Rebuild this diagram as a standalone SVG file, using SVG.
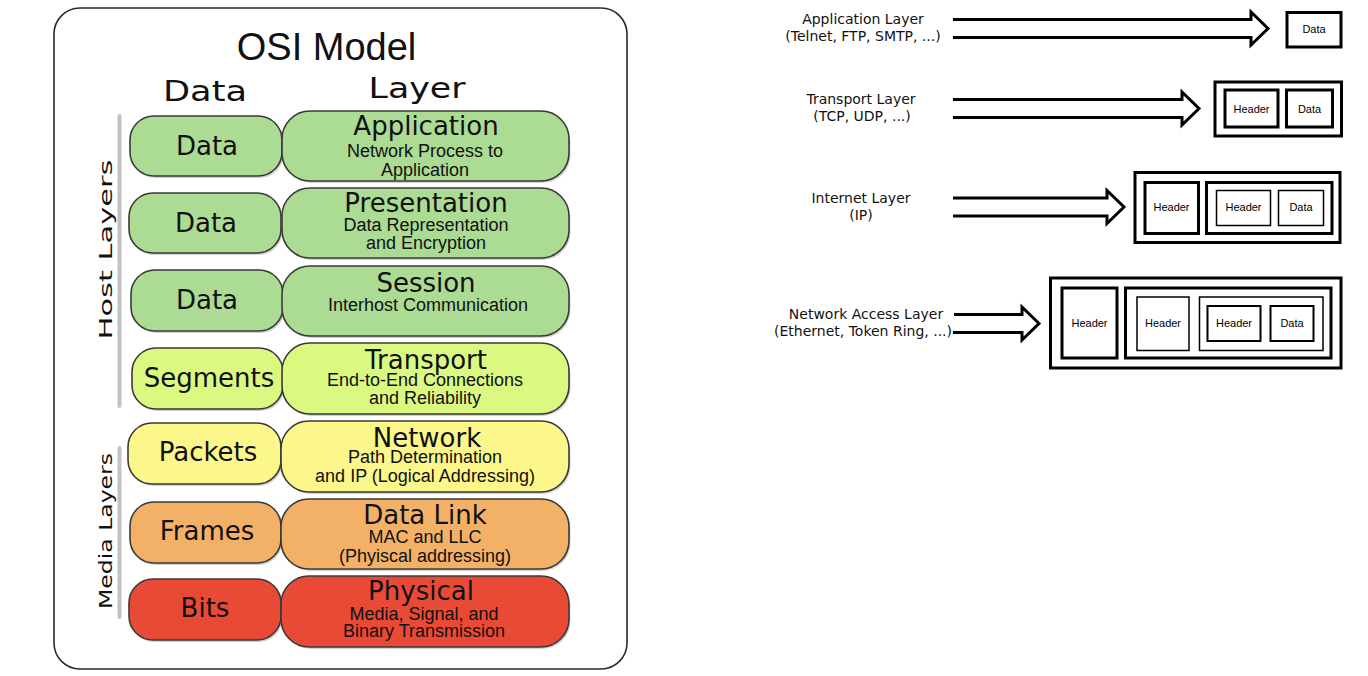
<svg xmlns="http://www.w3.org/2000/svg" width="1368" height="676" viewBox="0 0 1368 676">
<style>
.frame{fill:#fff;stroke:#2a2a2a;stroke-width:1.6}
.pill{stroke:#3a3a3a;stroke-width:1.6}
.shadow{fill:#9a9a9a;opacity:0.45}
.g{fill:#acdb93}.lime{fill:#dbf981}.y{fill:#fcf78a}.o{fill:#f3b167}.r{fill:#e94a36}
.title{font-family:"Liberation Sans",Arial,sans-serif;font-size:38px;fill:#111;text-anchor:middle}
.hdr{font-family:"DejaVu Sans",Verdana,sans-serif;font-size:28px;fill:#111;text-anchor:middle}
.side{font-family:"DejaVu Sans",Verdana,sans-serif;font-size:17px;fill:#111;text-anchor:middle}
.pl{font-family:"DejaVu Sans",Verdana,sans-serif;font-size:26px;fill:#111;text-anchor:middle}
.lt{font-family:"DejaVu Sans",Verdana,sans-serif;font-size:26px;fill:#111;text-anchor:middle}
.ls{font-family:"Liberation Sans",Arial,sans-serif;font-size:18px;fill:#111;text-anchor:middle}
.vline{stroke:#c2c2c2;stroke-width:4;stroke-linecap:round}
.rt{font-family:"DejaVu Sans",Verdana,sans-serif;font-size:14px;fill:#111;text-anchor:middle}
.arrow{fill:none;stroke:#000;stroke-width:3;stroke-linejoin:miter}
.bx{fill:none;stroke:#000;stroke-width:3}
.bm{fill:none;stroke:#000;stroke-width:2}
.bt{fill:none;stroke:#000;stroke-width:1.5}
.bl{font-family:"Liberation Sans",Arial,sans-serif;font-size:11px;fill:#000;text-anchor:middle}
</style>

<g id="osi-frame">
<rect class="frame" x="54" y="8" width="573" height="661" rx="26"/>
<text class="title" x="326.5" y="60">OSI Model</text>
<text class="hdr" x="205" y="101" textLength="84" lengthAdjust="spacingAndGlyphs">Data</text>
<text class="hdr" x="417" y="97.5" textLength="97" lengthAdjust="spacingAndGlyphs">Layer</text>
</g>

<g id="side-labels">
<line class="vline" x1="119.5" y1="116" x2="119.5" y2="406"/>
<line class="vline" x1="119.5" y1="448" x2="119.5" y2="617"/>
<text class="side" transform="translate(111.5,249.5) rotate(-90)" textLength="180" lengthAdjust="spacingAndGlyphs">Host Layers</text>
<text class="side" transform="translate(111.5,531) rotate(-90)" textLength="156" lengthAdjust="spacingAndGlyphs">Media Layers</text>
</g>

<g id="row-application">
<rect class="shadow" x="131.5" y="118" width="152" height="60" rx="24"/>
<rect class="pill g" x="130" y="116" width="152" height="60" rx="24"/>
<text class="pl" x="207" y="155">Data</text>
<rect class="shadow" x="283.5" y="113" width="287" height="70" rx="28"/>
<rect class="pill g" x="282" y="111" width="287" height="70" rx="28"/>
<text class="lt" x="426" y="134.5">Application</text>
<text class="ls" x="425" y="157">Network Process to</text>
<text class="ls" x="425" y="176">Application</text>
</g>

<g id="row-presentation">
<rect class="shadow" x="130.5" y="195" width="152" height="60" rx="24"/>
<rect class="pill g" x="129" y="193" width="152" height="60" rx="24"/>
<text class="pl" x="206" y="232">Data</text>
<rect class="shadow" x="283.5" y="190" width="287" height="70" rx="28"/>
<rect class="pill g" x="282" y="188" width="287" height="70" rx="28"/>
<text class="lt" x="426" y="211.5">Presentation</text>
<text class="ls" x="426" y="231">Data Representation</text>
<text class="ls" x="426" y="249">and Encryption</text>
</g>

<g id="row-session">
<rect class="shadow" x="132.5" y="272" width="152" height="61" rx="24"/>
<rect class="pill g" x="131" y="270" width="152" height="61" rx="24"/>
<text class="pl" x="207" y="309">Data</text>
<rect class="shadow" x="283.5" y="268" width="287" height="70" rx="28"/>
<rect class="pill g" x="282" y="266" width="287" height="70" rx="28"/>
<text class="lt" x="426" y="292">Session</text>
<text class="ls" x="428" y="311">Interhost Communication</text>
</g>

<g id="row-transport">
<rect class="shadow" x="133.5" y="350" width="151" height="61" rx="24"/>
<rect class="pill lime" x="132" y="348" width="151" height="61" rx="24"/>
<text class="pl" x="209" y="387">Segments</text>
<rect class="shadow" x="283.5" y="345" width="287" height="71" rx="28"/>
<rect class="pill lime" x="282" y="343" width="287" height="71" rx="28"/>
<text class="lt" x="426" y="368.5">Transport</text>
<text class="ls" x="425" y="386">End-to-End Connections</text>
<text class="ls" x="425" y="404">and Reliability</text>
</g>

<g id="row-network">
<rect class="shadow" x="129.5" y="425" width="153" height="61" rx="24"/>
<rect class="pill y" x="128" y="423" width="153" height="61" rx="24"/>
<text class="pl" x="208" y="461">Packets</text>
<rect class="shadow" x="282.5" y="423" width="288" height="71" rx="28"/>
<rect class="pill y" x="281" y="421" width="288" height="71" rx="28"/>
<text class="lt" x="427" y="446.5">Network</text>
<text class="ls" x="425" y="463">Path Determination</text>
<text class="ls" x="425" y="482">and IP (Logical Addressing)</text>
</g>

<g id="row-datalink">
<rect class="shadow" x="131.5" y="504" width="151" height="61" rx="24"/>
<rect class="pill o" x="130" y="502" width="151" height="61" rx="24"/>
<text class="pl" x="207" y="540">Frames</text>
<rect class="shadow" x="282.5" y="501" width="288" height="70" rx="28"/>
<rect class="pill o" x="281" y="499" width="288" height="70" rx="28"/>
<text class="lt" x="425" y="523.5">Data Link</text>
<text class="ls" x="425" y="543">MAC and LLC</text>
<text class="ls" x="425" y="562">(Phyiscal addressing)</text>
</g>

<g id="row-physical">
<rect class="shadow" x="130.5" y="581" width="152" height="61" rx="24"/>
<rect class="pill r" x="129" y="579" width="152" height="61" rx="24"/>
<text class="pl" x="205" y="617">Bits</text>
<rect class="shadow" x="282.5" y="578" width="288" height="71" rx="28"/>
<rect class="pill r" x="281" y="576" width="288" height="71" rx="28"/>
<text class="lt" x="421" y="599.5">Physical</text>
<text class="ls" x="424" y="620">Media, Signal, and</text>
<text class="ls" x="424" y="637">Binary Transmission</text>
</g>

<g id="connectors">
<path class="arrow" d="M953,19.5 H1251 V12 L1268,28.5 L1251,45 V37.5 H953"/>
<path class="arrow" d="M953,99.5 H1182 V92 L1199,108.5 L1182,125 V117.5 H953"/>
<path class="arrow" d="M953,198 H1107 V190.5 L1124,207 L1107,223.5 V216 H953"/>
<path class="arrow" d="M954,314.5 H1022 V307 L1039,323.5 L1022,340 V332.5 H953"/>
</g>

<g id="app-layer">
<text class="rt" x="863" y="24">Application Layer</text>
<text class="rt" x="863" y="40.5">(Telnet, FTP, SMTP, ...)</text>
<rect class="bx" x="1287" y="12.5" width="54" height="34.5"/>
<text class="bl" x="1314" y="33">Data</text>
</g>

<g id="transport-layer">
<text class="rt" x="861" y="104">Transport Layer</text>
<text class="rt" x="862" y="120.5">(TCP, UDP, ...)</text>
<rect class="bx" x="1215" y="82" width="126.5" height="54"/>
<rect class="bx" x="1225" y="90" width="53" height="37"/>
<rect class="bx" x="1286.5" y="90" width="46" height="37"/>
<text class="bl" x="1251.5" y="112.5">Header</text>
<text class="bl" x="1309.5" y="112.5">Data</text>
</g>

<g id="internet-layer">
<text class="rt" x="861" y="202.5">Internet Layer</text>
<text class="rt" x="861" y="219.5">(IP)</text>
<rect class="bx" x="1135" y="172.5" width="205" height="70"/>
<rect class="bx" x="1145" y="182.5" width="53.5" height="51"/>
<rect class="bx" x="1206.5" y="182.5" width="125.5" height="51"/>
<rect class="bt" x="1216.5" y="190.5" width="54" height="35"/>
<rect class="bt" x="1278.5" y="190.5" width="45" height="35"/>
<text class="bl" x="1171.5" y="211">Header</text>
<text class="bl" x="1243.5" y="211">Header</text>
<text class="bl" x="1301" y="211">Data</text>
</g>

<g id="network-access-layer">
<text class="rt" x="866" y="318.5">Network Access Layer</text>
<text class="rt" x="863" y="335.5">(Ethernet, Token Ring, ...)</text>
<rect class="bx" x="1050.5" y="278" width="290.5" height="90"/>
<rect class="bx" x="1062" y="288" width="55" height="70"/>
<rect class="bx" x="1125.5" y="288" width="205.5" height="70"/>
<rect class="bt" x="1137" y="297" width="52" height="53.5"/>
<rect class="bt" x="1199.5" y="297" width="123.5" height="53.5"/>
<rect class="bm" x="1207.5" y="306" width="53" height="35"/>
<rect class="bm" x="1270.5" y="306" width="43" height="35"/>
<text class="bl" x="1089.5" y="327">Header</text>
<text class="bl" x="1163" y="327">Header</text>
<text class="bl" x="1234" y="327">Header</text>
<text class="bl" x="1292" y="327">Data</text>
</g>
</svg>
